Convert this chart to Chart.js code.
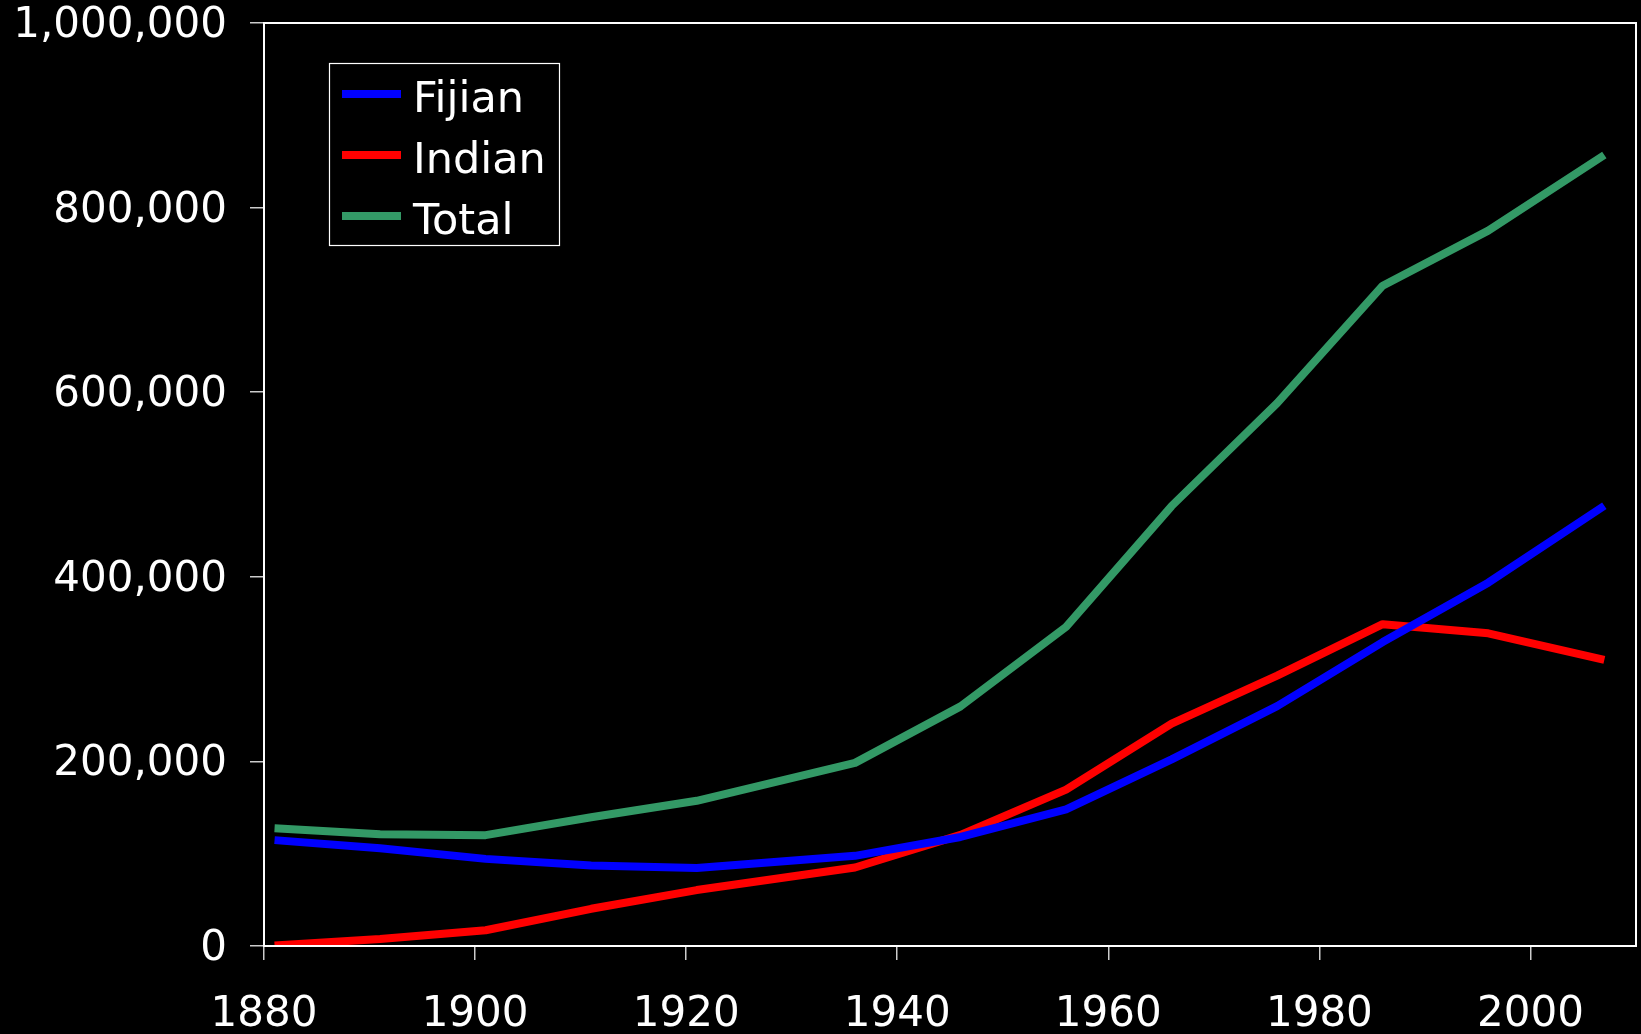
<!DOCTYPE html>
<html>
<head>
<meta charset="utf-8">
<script src="https://cdn.jsdelivr.net/npm/chart.js@4.4.1/dist/chart.umd.min.js"></script>
<style>
  html, body { margin: 0; padding: 0; background: #000; }
  #wrap { width: 1641px; height: 1034px; }
</style>
</head>
<body>
<div id="wrap"><canvas id="popChart" width="1641" height="1034"></canvas></div>
<script>
// census years and population
const years = [1881, 1891, 1901, 1911, 1921, 1936, 1946, 1956, 1966, 1976, 1986, 1996, 2007];
const fijian = [114700, 105800, 94400, 87100, 84500, 97700, 118100, 148100, 202200, 259900, 329300, 393600, 477000];
const indian = [600, 7500, 17100, 40300, 60600, 85000, 120400, 169400, 241000, 292900, 348700, 338800, 310000];
const total = [127500, 121200, 120100, 139500, 157300, 198400, 259600, 345700, 476700, 588100, 715400, 775100, 857000];
const seriesNames = ['Fijian', 'Indian', 'Total'];
const seriesColors = ['#0000ff', '#ff0000', '#339966'];

const FONT = 'DejaVu Sans, Verdana, sans-serif';

function toPoints(vals) {
    return years.map((y, i) => ({ x: y, y: vals[i] }));
}

// black background + box around the plot + legend inside the plot
const framePlugin = {
    id: 'frame',
    beforeDraw(chart) {
        const ctx = chart.ctx;
        ctx.save();
        ctx.fillStyle = '#000';
        ctx.fillRect(0, 0, chart.width, chart.height);
        ctx.restore();
    },
    afterDraw(chart) {
        const ctx = chart.ctx;
        const a = chart.chartArea;
        ctx.save();
        ctx.strokeStyle = '#ffffff';
        ctx.lineWidth = 2;
        ctx.strokeRect(a.left, a.top, a.right - a.left, a.bottom - a.top);

        // legend
        ctx.lineWidth = 1.2;
        ctx.strokeRect(329.5, 63.5, 230, 182);
        ctx.font = '43px ' + FONT;
        ctx.textBaseline = 'alphabetic';
        ctx.textAlign = 'left';
        chart.data.datasets.forEach((ds, i) => {
            const ly = 94 + i * 61;
            ctx.fillStyle = ds.borderColor;
            ctx.fillRect(342, ly - 4, 59, 8);
            ctx.fillStyle = '#ffffff';
            ctx.fillText(ds.label, 413, ly + 18);
        });
        ctx.restore();
    }
};

const ctx = document.getElementById('popChart').getContext('2d');
const popChart = new Chart(ctx, {
    type: 'line',
    data: {
        datasets: [
            { label: seriesNames[0], data: toPoints(fijian), borderColor: seriesColors[0] },
            { label: seriesNames[1], data: toPoints(indian), borderColor: seriesColors[1] },
            { label: seriesNames[2], data: toPoints(total), borderColor: seriesColors[2] }
        ].map(d => Object.assign(d, { borderWidth: 8, pointRadius: 0, fill: false, tension: 0, borderJoinStyle: 'round' }))
    },
    options: {
        responsive: false,
        animation: false,
        layout: { padding: { top: 23, right: 5, left: 0, bottom: 0 } },
        plugins: {
            legend: { display: false },
            tooltip: { enabled: false }
        },
        scales: {
            x: {
                type: 'linear',
                min: 1880,
                max: 2010,
                afterFit: (s) => { s.height = 88; },
                border: { display: true, color: '#ffffff', width: 2 },
                grid: { drawOnChartArea: false, drawTicks: true, tickLength: 14, color: '#cccccc', lineWidth: 1.5 },
                ticks: {
                    stepSize: 20,
                    includeBounds: false,
                    color: '#ffffff',
                    font: { family: FONT, size: 42 },
                    padding: 30,
                    maxRotation: 0,
                    callback: (v) => String(v)
                }
            },
            y: {
                min: 0,
                max: 1000000,
                afterFit: (s) => { s.width = 264; s.paddingTop = 0; },
                border: { display: true, color: '#ffffff', width: 2 },
                grid: { drawOnChartArea: false, drawTicks: true, tickLength: 14, color: '#cccccc', lineWidth: 1.5 },
                ticks: {
                    stepSize: 200000,
                    color: '#ffffff',
                    font: { family: FONT, size: 42, lineHeight: 1.1 },
                    padding: 23,
                    labelOffset: 3,
                    callback: (v) => v.toLocaleString('en-US')
                }
            }
        }
    },
    plugins: [framePlugin]
});
</script>
</body>
</html>
